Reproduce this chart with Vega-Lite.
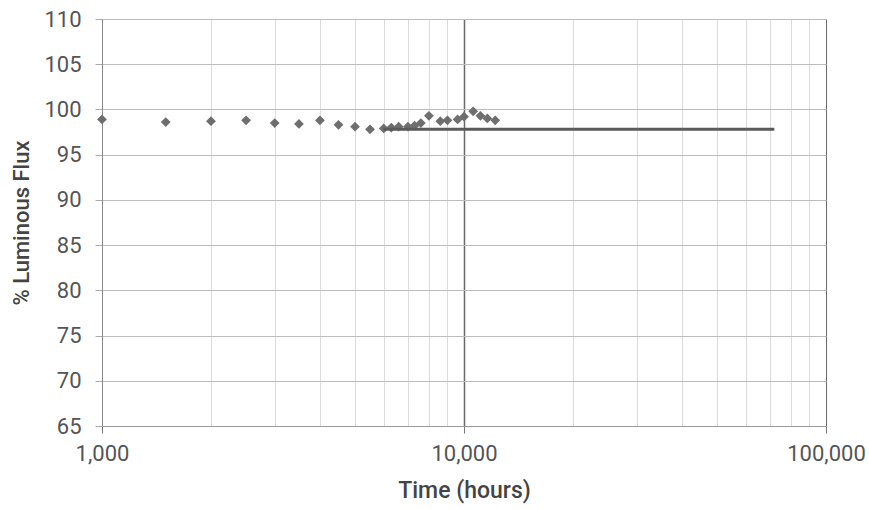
{
  "$schema": "https://vega.github.io/schema/vega-lite/v6.json",
  "width": 724,
  "height": 407,
  "autosize": {"type": "none"},
  "padding": {"left": 102, "top": 19, "right": 43, "bottom": 84},
  "background": "white",
  "config": {
    "view": {"stroke": null},
    "font": "Roboto",
    "axis": {"labelFont": "Roboto", "titleFont": "Roboto", "labelColor": "#555555", "titleColor": "#444444"}
  },
  "datasets": {
    "points": [
      {"hours": 1000, "flux": 98.9},
      {"hours": 1500, "flux": 98.6},
      {"hours": 2000, "flux": 98.7},
      {"hours": 2500, "flux": 98.8},
      {"hours": 3000, "flux": 98.5},
      {"hours": 3500, "flux": 98.4},
      {"hours": 4000, "flux": 98.8},
      {"hours": 4500, "flux": 98.3},
      {"hours": 5000, "flux": 98.1},
      {"hours": 5500, "flux": 97.8},
      {"hours": 6000, "flux": 97.9},
      {"hours": 6300, "flux": 98.0},
      {"hours": 6600, "flux": 98.1},
      {"hours": 7000, "flux": 98.1},
      {"hours": 7300, "flux": 98.2},
      {"hours": 7600, "flux": 98.5},
      {"hours": 8000, "flux": 99.3},
      {"hours": 8600, "flux": 98.7},
      {"hours": 9000, "flux": 98.8},
      {"hours": 9600, "flux": 98.9},
      {"hours": 10000, "flux": 99.2},
      {"hours": 10600, "flux": 99.8},
      {"hours": 11100, "flux": 99.3},
      {"hours": 11600, "flux": 99.0},
      {"hours": 12200, "flux": 98.8}
    ],
    "fit": [
      {"hours": 6000, "flux": 97.8},
      {"hours": 72000, "flux": 97.8}
    ]
  },
  "layer": [
    {
      "data": {"name": "points"},
      "mark": {"type": "point", "shape": "diamond", "filled": true, "size": 95, "color": "#6e6e6e", "opacity": 1},
      "encoding": {
        "x": {
          "field": "hours", "type": "quantitative",
          "scale": {"type": "log", "domain": [1000, 100000], "nice": false},
          "axis": {
            "title": "Time (hours)",
            "titleFontSize": 23,
            "titleFontWeight": 500,
            "titlePadding": 15,
            "values": [1000, 2000, 3000, 4000, 5000, 6000, 7000, 8000, 9000, 10000, 20000, 30000, 40000, 50000, 60000, 70000, 80000, 90000, 100000],
            "labelExpr": "(datum.value == 1000 || datum.value == 10000 || datum.value == 100000) ? format(datum.value, ',') : ''",
            "labelFontSize": 22,
            "labelPadding": 10,
            "labelFlush": false,
            "grid": true,
            "gridColor": {"condition": {"test": "datum.value == 10000 || datum.value == 100000 || datum.value == 1000", "value": "#6a6a6a"}, "value": "#dcdcdc"},
            "gridWidth": {"condition": {"test": "datum.value == 10000", "value": 1.5}, "value": 1},
            "ticks": true,
            "tickSize": {"condition": {"test": "datum.value == 1000 || datum.value == 10000 || datum.value == 100000", "value": 7}, "value": 0},
            "tickColor": "#777777",
            "domain": true,
            "domainColor": "#999999"
          }
        },
        "y": {
          "field": "flux", "type": "quantitative",
          "scale": {"domain": [65, 110], "nice": false, "zero": false},
          "axis": {
            "title": "% Luminous Flux",
            "titleFontSize": 22,
            "titleFontWeight": 500,
            "titlePadding": 10,
            "values": [65, 70, 75, 80, 85, 90, 95, 100, 105, 110],
            "labelFontSize": 22,
            "labelPadding": 14,
            "grid": true,
            "gridColor": "#bdbdbd",
            "tickSize": 7,
            "tickColor": "#aaaaaa",
            "domain": true,
            "domainColor": "#888888"
          }
        }
      }
    },
    {
      "data": {"name": "fit"},
      "mark": {"type": "line", "color": "#5a5a5a", "strokeWidth": 3},
      "encoding": {
        "x": {"field": "hours", "type": "quantitative"},
        "y": {"field": "flux", "type": "quantitative"}
      }
    }
  ]
}
